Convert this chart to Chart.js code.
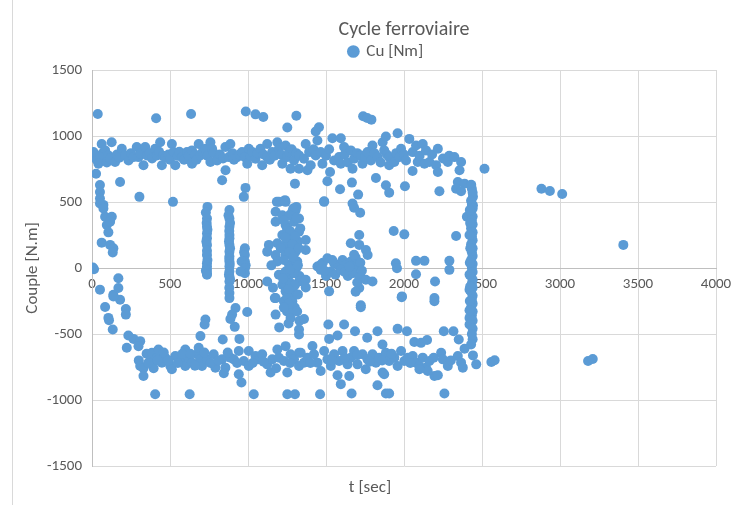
<!DOCTYPE html>
<html lang="fr">
<head>
<meta charset="UTF-8" />
<title>Cycle ferroviaire</title>
<script src="https://cdn.jsdelivr.net/npm/chart.js"></script>
<style>
  html, body { margin: 0; padding: 0; background: #fff; overflow: hidden; }
  #wrap { position: relative; width: 752px; height: 505px; }
  #edge { position: absolute; left: 12px; top: 0; height: 505px; border-left: 1px solid #d9d9d9; }
</style>
</head>
<body>
<div id="wrap">
  <div id="edge"></div>
  <canvas id="chart" width="752" height="505"></canvas>
</div>
<script>
// [t (sec), Cu (Nm)], grouped by area
const upperBand = [
  [9,878],[20,860],[30,820],[62,940],[70,870],[84,891],[51,840],[41,790],[95,800],[105,853],[115,830],[126,953],[148,803],[160,860],[175,835],[191,903],[212,853],[234,815],[250,870],[265,840],[287,916],[298,840],[310,865],[341,916],[352,853],[330,778],[370,870],[385,830],[405,903],[416,853],[430,880],[437,953],[448,778],[455,850],[469,840],[490,860],[500,820],[512,940],[523,878],[534,778],[550,850],[560,880],[577,840],[590,820],[609,878],[620,850],[641,891],[641,790],[660,860],[670,820],[684,940],[695,853],[710,880],[727,903],[740,850],[759,953],[770,903],[759,803],[780,870],[802,815],[820,860],[840,830],[855,916],[877,840],[887,940],[900,870],[910,820],[930,840],[945,860],[962,878],[980,840],[995,790],[1005,903],[1015,850],[1027,878],[1048,828],[1060,870],[1080,903],[1091,778],[1100,860],[1123,940],[1123,840],[1140,820],[1155,878],[1170,850],[1188,953],[1198,903],[1210,860],[1220,790],[1241,928],[1250,840],[1263,878],[1273,752],[1280,900],[1295,815],[1310,870],[1327,853],[1327,752],
  [1359,828],[1370,940],[1381,740],[1392,878],[1402,778],[1420,900],[1434,853],[1445,966],[1466,878],[1477,790],[1500,850],[1520,900],[1541,983],[1552,815],[1584,840],[1595,983],[1595,790],[1616,916],[1620,860],[1640,800],[1659,891],[1670,752],[1680,828],[1700,870],[1723,853],[1734,790],[1750,840],[1766,878],[1788,815],[1798,928],[1810,870],[1831,840],[1850,800],[1863,953],[1873,891],[1884,996],[1890,860],[1905,840],[1905,778],[1938,803],[1950,870],[1970,840],[1981,903],[2000,860],[2013,815],[2034,978],[2056,878],[2077,928],[2088,803],[2100,850],[2120,940],[2131,790],[2141,891],[2163,803],[2180,860],[2206,778],[2217,903],[2250,830],[2281,803],[2290,850],[2323,840],[2356,740],[2366,803]
];
const upperScatter = [
  [37,1167],[411,1134],[635,1167],[986,1185],[1048,1164],[1098,1144],[1310,1154],[1738,1149],[1764,1137],[1791,1124],[1252,1064],[1455,1066],[1434,1034],[1959,1021],[2516,752],[2881,601],[2935,584],[3014,561],[3406,175],
  [26,714],[180,652],[834,665],[856,740],[304,539],[519,501],[984,607],[973,539],[1198,501],[1237,514],[1301,639],[1310,463],[1526,727],[1509,657],[1590,597],[1666,647],[1706,556],[1488,506],[1820,682],[1884,627],[1905,571],[2006,619],[2055,735],[2217,727],[2227,582],[2345,652],[2388,639],[2431,631],[2334,601],[2366,582],[2442,539],[2442,476],[2403,388],[2334,243],[1934,280],[2002,255]
];
const leftCurve = [
  [0,0],[6,4],[51,629],[51,576],[51,526],[73,478],[51,488],[73,451],[84,388],[127,388],[95,326],[116,351],[105,270],[62,192],[116,175],[137,149],[133,117],[13,-9],[169,-77],[169,-152],[137,-202],[180,-240],[51,-164],[84,-295],[105,-378],[109,-396],[133,-466],[137,-215],[217,-310],[217,-353],[223,-604],[233,-511],[266,-537],[309,-554],[298,-592]
];
const columns = [
  [740,463],[730,420],[737,375],[735,340],[737,313],[740,290],[737,262],[737,225],[733,200],[737,175],[737,130],[737,99],[740,60],[737,36],[737,11],[737,-14],[730,-20],[737,-39],[737,-51],[727,-390],[722,-428],[695,-516],
  [881,439],[875,400],[881,375],[885,340],[881,313],[880,280],[881,250],[881,225],[878,200],[881,175],[885,150],[881,124],[881,87],[880,70],[881,49],[883,30],[881,11],[881,-26],[878,-50],[881,-64],[885,-85],[881,-102],[880,-150],[881,-190],[881,-228],[920,-303],[898,-353],[887,-386],[915,-446],[945,-537],[995,-333],[838,-541],
  [980,149],[975,120],[980,99],[980,49],[959,49],[985,20],[980,-2],[980,-39],[952,-26],
  [1185,501],[1241,501],[1177,426],[1220,400],[1284,426],[1305,438],[1290,450],[1177,350],[1241,325],[1295,350],[1327,375],[1335,300],[1250,300],[1220,250],[1273,225],[1327,275],[1320,200],[1134,175],[1188,187],[1241,175],[1295,149],[1210,150],[1123,124],[1177,99],[1241,99],[1305,124],[1188,49],[1263,24],[1316,49],[1300,60],[1150,20],[1310,0],[1260,-60],[1330,-60],[1123,-102],[1198,-51],[1241,-26],[1295,-39],[1160,-150],[1220,-127],[1273,-114],[1327,-102],[1241,-177],[1295,-190],[1177,-228],[1172,-228],[1230,-252],[1252,-215],[1284,-252],[1300,-300],[1250,-330],[1177,-353],[1273,-328],[1273,-378],[1330,-400],[1260,-420],[1200,-450],[1327,-466],[1327,-503],[1359,-386],[1370,212],[1370,137],[1370,-89],[1370,-147],
  [1265,400],[1310,380],[1230,360],[1270,280],[1300,240],[1240,230],[1285,180],[1325,150],[1265,120],[1290,80],[1230,60],[1270,-10],[1320,20],[1225,-80],[1300,-130],[1260,-160],[1320,-200],[1260,-270],[1315,-330],[1230,-300],
  [1445,11],[1466,24],[1480,40],[1509,74],[1552,36],[1580,20],[1606,61],[1630,30],[1659,49],[1690,80],[1680,100],[1702,11],[1720,40],[1466,-14],[1500,-60],[1531,-26],[1560,-50],[1595,-14],[1640,-60],[1670,-39],[1713,-64],[1755,-89],[1798,-102],[1713,-152],[1520,-177],[1680,456],[1670,488],[1719,418],[1488,501],[1713,250],[1659,187],[1713,175],[1756,137],[1767,99],
  [1490,-20],[1540,60],[1620,-30],[1650,10],[1700,-110],[1730,-20],[1690,-180],
  [1948,36],[1955,-2],[2077,54],[2131,54],[2077,-47],[2199,-102],[2291,54],[2291,-14],[1987,-215],[2195,-228],[2195,-252],[1723,-283],[1723,-298],[1985,-222],[2420,-164],
  [2435,600],[2440,570],[2430,510],[2435,478],[2440,450],[2430,420],[2440,390],[2435,360],[2440,330],[2430,300],[2440,270],[2435,240],[2440,210],[2430,180],[2440,150],[2435,120],[2440,90],[2430,60],[2440,30],[2435,0],[2440,-30],[2430,-60],[2440,-90],[2435,-120],[2440,-150],[2430,-180],[2440,-210],[2435,-240],[2440,-270],[2430,-300],[2440,-330],[2435,-360],[2420,-378],[2440,-400],[2420,-428],[2440,-460],[2435,-500],[2440,-540],[2430,-580],
  [2422,440],[2424,340],[2420,250],[2425,150],[2422,40],[2420,-50],[2424,-140],[2422,-250],[2420,-320]
];
const lowerBand = [
  [300,-700],[309,-742],[330,-760],[350,-650],[375,-700],[384,-642],[395,-760],[416,-679],[426,-617],[448,-717],[469,-679],[502,-742],[512,-767],[534,-667],[566,-704],[598,-617],[598,-742],[620,-679],[641,-717],[673,-654],[684,-604],[695,-692],[705,-742],[737,-692],[780,-654],[791,-755],[834,-692],[855,-755],[887,-679],[909,-692],[941,-629],[973,-704],[1005,-629],[1005,-742],[1048,-667],[1070,-692],[1091,-654],[1123,-730],[1145,-792],[1155,-692],[1188,-617],[1198,-679],[1230,-704],[1241,-592],[1252,-792],[1273,-654],[1295,-692],[1327,-742],[1327,-642],
  [1338,-642],[1359,-717],[1381,-679],[1413,-591],[1423,-654],[1445,-717],[1466,-780],[1488,-629],[1509,-692],[1531,-742],[1552,-654],[1584,-704],[1606,-629],[1638,-730],[1659,-679],[1680,-629],[1702,-730],[1734,-654],[1755,-767],[1766,-692],[1798,-654],[1820,-717],[1841,-679],[1863,-792],[1884,-642],[1905,-704],[1938,-679],[1959,-742],[1981,-629],[2002,-704],[2024,-679],[2056,-667],[2077,-717],[2099,-742],[2120,-679],[2141,-755],[2163,-704],[2238,-642],[2249,-692],[2281,-742],[2345,-667],[2366,-717],[2377,-755],
  [360,-720],[420,-700],[460,-640],[490,-700],[550,-720],[580,-650],[630,-650],[660,-740],[720,-640],[760,-720],[810,-700],[870,-640],[930,-720],[1030,-720],[1100,-710],[1180,-760],[1270,-720],[1400,-720],[1540,-700],[1620,-680],[1700,-660],[1780,-710],[1860,-700],[1920,-650],[2040,-720],[2190,-680],[2300,-700]
];
const lowerScatter = [
  [405,-956],[626,-956],[1037,-956],[1252,-956],[1301,-956],[1462,-956],[1664,-951],[1884,-951],[1905,-951],[2259,-951],[958,-868],[941,-805],[845,-797],[1574,-812],[1649,-818],[1595,-880],[1830,-888],[1873,-805],[2195,-818],[2217,-812],[2152,-780],[2099,-767],[330,-818],
  [1515,-428],[1616,-428],[1959,-461],[2019,-479],[1830,-479],[1686,-479],[1764,-529],[1520,-537],[1574,-511],[2066,-561],[2109,-567],[2148,-546],[2351,-541],[1862,-579],[2388,-612],[2442,-662],[2463,-730],[2560,-712],[2581,-699],[2255,-479],[2317,-479],[3180,-705],[3210,-690]
];

const xTicks = [0, 500, 1000, 1500, 2000, 2500, 3000, 3500, 4000];
const yTicks = [-1500, -1000, -500, 0, 500, 1000, 1500];

const allPoints = [].concat(upperBand, upperScatter, leftCurve, columns, lowerBand, lowerScatter)
  .map(([t, c]) => ({ x: t, y: c }));

Chart.defaults.font.family = "Carlito, Lato, 'Liberation Sans', sans-serif";
Chart.defaults.color = "#595959";

// x axis sits on the zero line, so its title is drawn at the bottom by hand
const xTitle = {
  id: "xTitle",
  afterDraw(chart) {
    const c = chart.ctx;
    c.save();
    c.font = "17px Carlito, Lato, sans-serif";
    c.fillStyle = "#595959";
    c.textAlign = "center";
    c.textBaseline = "middle";
    c.fillText("t [sec]", 370, 488);
    c.restore();
  }
};

const ctx = document.getElementById("chart");
new Chart(ctx, {
  type: "scatter",
  data: {
    datasets: [{
      label: "Cu [Nm]",
      data: allPoints,
      backgroundColor: "#5B9BD5",
      borderColor: "#5B9BD5",
      borderWidth: 0,
      pointRadius: 5,
    }],
  },
  options: {
    responsive: false,
    animation: false,
    layout: { padding: { left: 20, right: 0, top: 18, bottom: 39 } },
    plugins: {
      title: {
        display: true,
        text: "Cycle ferroviaire",
        fullSize: false,
        color: "#595959",
        font: { size: 20, weight: "normal" },
        padding: { top: 0, bottom: 0 },
      },
      legend: {
        labels: {
          usePointStyle: true,
          pointStyle: "circle",
          boxWidth: 9,
          boxHeight: 9,
          color: "#595959",
          font: { size: 17 },
          padding: 1,
        },
      },
      tooltip: { enabled: false },
    },
    scales: {
      x: {
        type: "linear",
        position: { y: 0 },
        min: 0,
        max: 4000,
        afterBuildTicks: (s) => { s.ticks = xTicks.map((v) => ({ value: v })); },
        ticks: { padding: 7, font: { size: 15 }, color: "#595959", callback: (v) => String(v) },
        grid: { color: "#d9d9d9", drawTicks: false },
        border: { color: "#bfbfbf" },
      },
      y: {
        min: -1500,
        max: 1500,
        afterBuildTicks: (s) => { s.ticks = yTicks.map((v) => ({ value: v })); },
        ticks: { padding: 10, font: { size: 15 }, color: "#595959", callback: (v) => String(v) },
        grid: { color: "#d9d9d9", drawTicks: false },
        border: { color: "#bfbfbf" },
        title: { display: true, text: "Couple [N.m]", color: "#595959", font: { size: 17 }, padding: { top: 3, bottom: 0 } },
        afterFit: (s) => { s.width = 72; },
      },
      // empty strip on the right so the legend centres like the original
      spacer: {
        type: "linear",
        position: "right",
        display: true,
        ticks: { display: false },
        grid: { display: false, drawTicks: false },
        border: { display: false },
        afterFit: (s) => { s.width = 36; },
      },
    },
  },
  plugins: [xTitle],
});
</script>
</body>
</html>
